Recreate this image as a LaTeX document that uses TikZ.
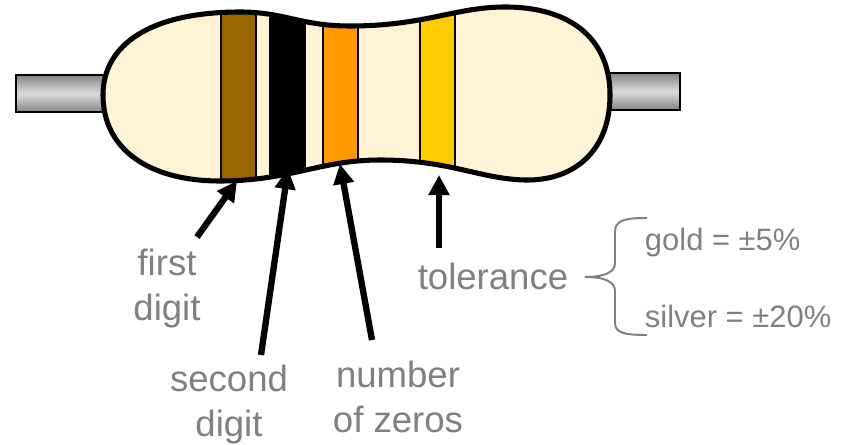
\documentclass[tikz,border=0pt]{standalone}
\usepackage{fontspec}
\setmainfont{Liberation Sans}
\usepackage{tikz}
\usetikzlibrary{arrows.meta}
\definecolor{bodycolor}{RGB}{255,243,214}
\definecolor{brownband}{RGB}{153,102,0}
\definecolor{orangeband}{RGB}{255,153,0}
\definecolor{goldband}{RGB}{255,204,0}
\definecolor{labelgray}{RGB}{128,128,128}

% outline of the resistor body (dog-bone shape)
\newcommand{\bodyoutline}{(103,95) .. controls (103,45) and (150,12) .. (240,12)
  .. controls (285,12) and (300,26) .. (350,26)
  .. controls (425,26) and (455,7) .. (505,7)
  .. controls (572,7) and (610,40) .. (610,95)
  .. controls (610,150) and (575,181) .. (525,180)
  .. controls (480,179) and (450,160) .. (380,160)
  .. controls (320,160) and (290,181) .. (220,181)
  .. controls (150,181) and (103,150) .. (103,95) -- cycle}

\begin{document}
\begin{tikzpicture}[x=0.025cm, y=-0.025cm,
  pointer/.style={line width=4.5pt, -{Triangle[length=0.5cm, width=0.5cm]}},
  bandlabel/.style={text=labelgray, font=\fontsize{26}{32}\selectfont, align=center},
  rangetext/.style={text=labelgray, font=\fontsize{22}{26}\selectfont, anchor=base west}]
\useasboundingbox (0,0) rectangle (845,445);

% leads
\shade[top color=black!48, bottom color=black!48, middle color=black!14] (16,75) rectangle (110,112);
\draw[line width=0.8pt] (110,75) -- (16,75) -- (16,112) -- (110,112);
\shade[top color=black!48, bottom color=black!48, middle color=black!14] (600,73) rectangle (680,110);
\draw[line width=0.8pt] (600,73) -- (680,73) -- (680,110) -- (600,110);

% body and colour bands
\fill[bodycolor] \bodyoutline;
\begin{scope}
  \clip \bodyoutline;
  \foreach \x/\c in {221/brownband, 270/black, 323/orangeband, 420/goldband} {
    \filldraw[fill=\c, draw=black, line width=1pt] (\x,0) rectangle (\x+35,200);
  }
\end{scope}
\draw[line width=3.6pt] \bodyoutline;

% labels
\node[bandlabel] (first) at (167,289) {first\\digit};
\node[bandlabel] (second) at (229,405) {second\\digit};
\node[bandlabel] (zeros) at (398,397) {number\\of zeros};
\node[bandlabel, anchor=base] (tol) at (493,289) {tolerance};
\node[rangetext] (gold) at (640,250) {gold = ±5\%};
\node[rangetext] (silver) at (640,327) {silver = ±20\%};

% arrows to the bands
\coordinate (firsttail) at (197,237);
\coordinate (firsttip) at (237,181);
\coordinate (secondtail) at (261,355);
\coordinate (secondtip) at (288,169);
\coordinate (zerostail) at (372,340);
\coordinate (zerostip) at (340,164);
\coordinate (toltail) at (439,248);
\coordinate (toltip) at (439,175);
\draw[pointer] (firsttail) -- (firsttip);
\draw[pointer] (secondtail) -- (secondtip);
\draw[pointer] (zerostail) -- (zerostip);
\draw[pointer] (toltail) -- (toltip);

% brace
\draw[labelgray, line width=1.4pt] (647,218) .. controls (625,218) and (615,220) .. (615,232)
  -- (615,263) .. controls (615,272) and (605,277) .. (585,277)
  .. controls (605,277) and (615,282) .. (615,291)
  -- (615,323) .. controls (615,333) and (625,335) .. (647,335);
\end{tikzpicture}
\end{document}
